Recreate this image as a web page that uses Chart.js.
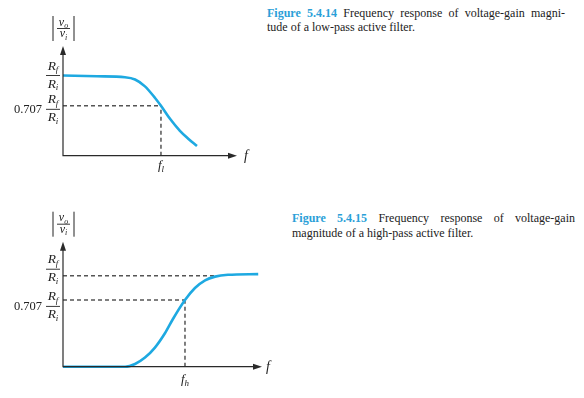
<!DOCTYPE html>
<html>
<head>
<meta charset="utf-8">
<script src="https://cdn.jsdelivr.net/npm/chart.js@4.4.1/dist/chart.umd.min.js"></script>
<style>
  body { margin: 0; background: #fff; width: 584px; height: 398px; overflow: hidden; position: relative; }
  canvas { position: absolute; left: 0; }
  #lowChart { top: 0; }
  #highChart { top: 200px; }
  .cap { position: absolute; font-family: 'Liberation Serif', 'Times New Roman', serif; font-size: 12px; color: #222; }
  .cap b { color: #2a9fd8; }
  .cap .j { text-align: justify; text-align-last: justify; white-space: nowrap; }
</style>
</head>
<body>
<canvas id="lowChart" width="260" height="190"></canvas>
<canvas id="highChart" width="290" height="198"></canvas>

<div class="cap" style="left:267px; top:6px; width:298px; line-height:14px;">
  <div class="j"><b>Figure 5.4.14</b> Frequency response of voltage-gain magni-</div>
  <div>tude of a low-pass active filter.</div>
</div>
<div class="cap" style="left:292px; top:211px; width:283px; line-height:15px;">
  <div class="j"><b>Figure 5.4.15</b> Frequency response of voltage-gain</div>
  <div>magnitude of a high-pass active filter.</div>
</div>

<script>
// low-pass curve (x: 0..100 along the f axis, y: gain with Rf/Ri = 1)
const lowFreq = [0, 19.5, 35.6, 41.4, 47.1, 52.9, 56.3, 61.5, 67.2, 71.8, 77.0];
const lowGain = [1.0, 0.99, 0.978, 0.95, 0.865, 0.72, 0.623, 0.46, 0.31, 0.215, 0.121];
const lowTicks = [1, 0.623];
const lowCutoff = 56.3;

// high-pass curve
const highFreq = [0, 31.2, 36.2, 41.2, 46.2, 51.3, 55.4, 61.3, 66.3, 71.4, 76.4, 82.9, 98.1];
const highGain = [0, 0, 0.03, 0.10, 0.21, 0.37, 0.53, 0.733, 0.865, 0.95, 0.99, 1.01, 1.018];
const highTicks = [1, 0.733];
const highCutoff = 61.3;
const highRefEnd = 77.9;   // where the Rf/Ri dashed line stops

const tickText = ['', '0.707'];
const CURVE = '#1ea9e1';
const SERIF = "'Liberation Serif', 'Times New Roman', serif";

// draws "main" with an italic subscript, centred on cx
function subText(ctx, main, sub, cx, base, size) {
  const small = Math.round(size * 0.68);
  ctx.font = 'italic ' + size + 'px ' + SERIF;
  const w1 = ctx.measureText(main).width;
  ctx.font = 'italic ' + small + 'px ' + SERIF;
  const w2 = ctx.measureText(sub).width;
  const x0 = cx - (w1 + w2) / 2;
  ctx.font = 'italic ' + size + 'px ' + SERIF;
  ctx.fillText(main, x0, base);
  ctx.font = 'italic ' + small + 'px ' + SERIF;
  ctx.fillText(sub, x0 + w1, base + size * 0.22);
}

function fraction(ctx, cx, barY, w, num, den, size, up, down) {
  subText(ctx, num[0], num[1], cx, barY - up, size);
  subText(ctx, den[0], den[1], cx, barY + down, size);
  ctx.beginPath();
  ctx.lineWidth = 0.9;
  ctx.moveTo(cx - w / 2, barY);
  ctx.lineTo(cx + w / 2, barY);
  ctx.stroke();
}

const diagram = {
  id: 'diagram',
  beforeDatasetsDraw(chart, args, o) {
    const { ctx, scales: { x, y } } = chart;
    ctx.save();
    ctx.strokeStyle = '#555';
    ctx.lineWidth = 1.5;
    ctx.setLineDash([4, 3]);
    o.guides.forEach(g => {
      ctx.beginPath();
      ctx.moveTo(x.getPixelForValue(g[0]), y.getPixelForValue(g[1]));
      ctx.lineTo(x.getPixelForValue(g[2]), y.getPixelForValue(g[3]));
      ctx.stroke();
    });
    ctx.restore();
  },
  afterDatasetsDraw(chart, args, o) {
    const { ctx, chartArea: a, scales: { x, y } } = chart;
    ctx.save();
    ctx.strokeStyle = '#2a2a2a';
    ctx.fillStyle = '#2a2a2a';
    ctx.lineWidth = 1.2;
    // axes with arrow heads
    ctx.beginPath();
    ctx.moveTo(a.left, a.top + 6);
    ctx.lineTo(a.left, a.bottom);
    ctx.lineTo(a.right - 6, a.bottom);
    ctx.stroke();
    ctx.beginPath();
    ctx.moveTo(a.left, a.top);
    ctx.lineTo(a.left - 3, a.top + 9);
    ctx.lineTo(a.left + 3, a.top + 9);
    ctx.fill();
    ctx.beginPath();
    ctx.moveTo(a.right, a.bottom);
    ctx.lineTo(a.right - 9, a.bottom - 3);
    ctx.lineTo(a.right - 9, a.bottom + 3);
    ctx.fill();

    ctx.fillStyle = '#222';
    ctx.strokeStyle = '#222';
    ctx.textBaseline = 'alphabetic';
    // |vo/vi| label
    const cx = a.left + 0.5;
    ctx.lineWidth = 1;
    ctx.beginPath();
    ctx.moveTo(cx - 10.5, a.top - 30); ctx.lineTo(cx - 10.5, a.top - 5);
    ctx.moveTo(cx + 10.5, a.top - 30); ctx.lineTo(cx + 10.5, a.top - 5);
    ctx.stroke();
    fraction(ctx, cx, a.top - 17.5, 13, ['v', 'o'], ['v', 'i'], 12, 3, 8.5);

    // y tick labels
    o.ticks.forEach((t, i) => {
      const barY = y.getPixelForValue(t) + o.shift[i];
      fraction(ctx, a.left - 10, barY, 14, ['R', 'f'], ['R', 'i'], 13.5, 6, 12);
      if (tickText[i]) {
        ctx.font = '12.5px ' + SERIF;
        ctx.textAlign = 'right';
        ctx.fillText(tickText[i], a.left - 21, barY + 4);
        ctx.textAlign = 'left';
      }
    });
    // cutoff label
    subText(ctx, 'f', o.cutName, x.getPixelForValue(o.cutoff), a.bottom + o.cutGap, 13);
    // axis name
    ctx.font = 'italic 14px ' + SERIF;
    ctx.fillText('f', a.right + o.fGap, a.bottom + 4);
    ctx.restore();
  }
};

function makeChart(id, xs, ys, ymax, pad, opts) {
  return new Chart(document.getElementById(id), {
    type: 'line',
    data: {
      datasets: [{
        data: xs.map((v, i) => ({ x: v, y: ys[i] })),
        borderColor: CURVE,
        borderWidth: 2.6,
        pointRadius: 0,
        cubicInterpolationMode: 'monotone',
        clip: false,
        fill: false
      }]
    },
    options: {
      responsive: false,
      animation: false,
      events: [],
      layout: { padding: pad },
      scales: {
        x: { type: 'linear', min: 0, max: 100, display: false },
        y: { type: 'linear', min: 0, max: ymax, display: false }
      },
      plugins: {
        legend: { display: false },
        tooltip: { enabled: false },
        diagram: opts
      }
    },
    plugins: [diagram]
  });
}

makeChart('lowChart', lowFreq, lowGain, 1.368,
  { left: 63, right: 23, top: 46, bottom: 34.3 },
  {
    ticks: lowTicks, shift: [0, 3.6],
    guides: [[0, lowTicks[1], lowCutoff, lowTicks[1]], [lowCutoff, 0, lowCutoff, lowTicks[1]]],
    cutoff: lowCutoff, cutName: 'l', cutGap: 13, fGap: 7
  });

makeChart('highChart', highFreq, highGain, 1.374,
  { left: 63, right: 28, top: 41.7, bottom: 31.3 },
  {
    ticks: highTicks, shift: [-6.5, 6.4],
    guides: [[0, highTicks[0], highRefEnd, highTicks[0]], [0, highTicks[1], highCutoff, highTicks[1]],
             [highCutoff, 0, highCutoff, highTicks[1]]],
    cutoff: highCutoff, cutName: 'h', cutGap: 16, fGap: 4
  });
</script>
</body>
</html>
